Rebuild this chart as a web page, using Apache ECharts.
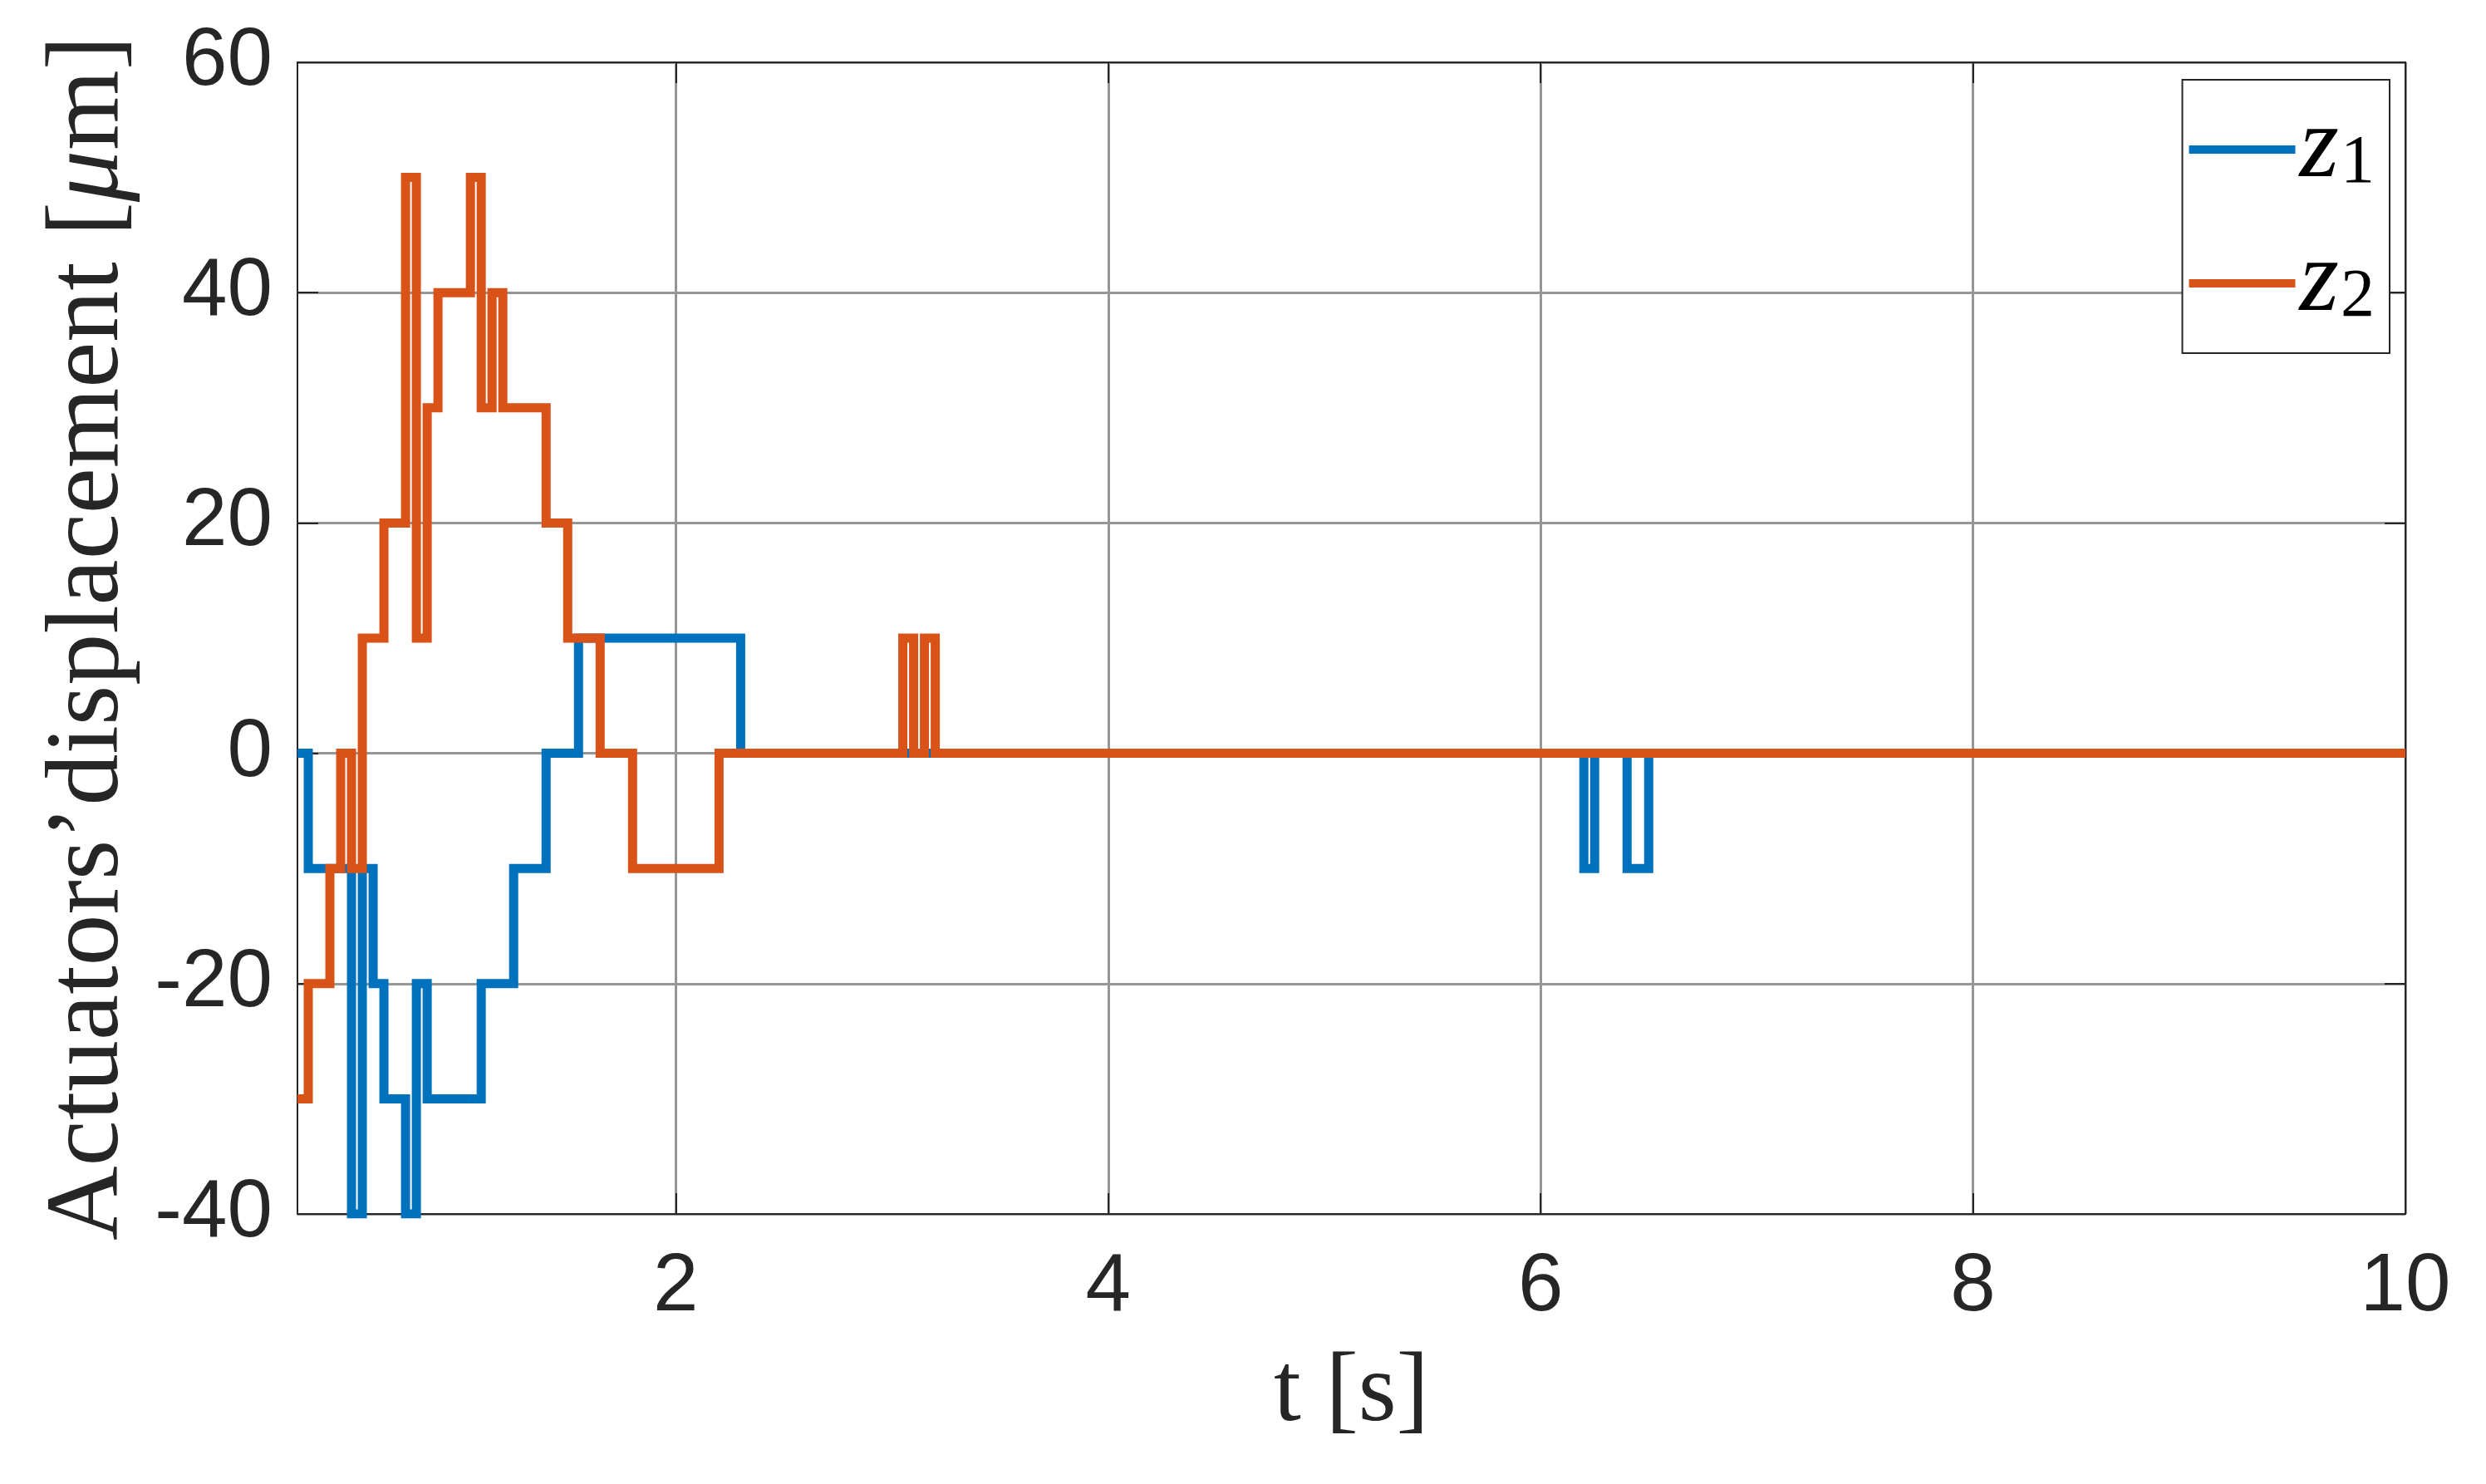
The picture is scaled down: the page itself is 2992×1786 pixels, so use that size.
<!DOCTYPE html>
<html>
<head>
<meta charset="utf-8">
<script src="https://cdn.jsdelivr.net/npm/echarts@6/dist/echarts.min.js"></script>
<style>
  html, body { margin: 0; padding: 0; background: #fff; }
  #chart { width: 2992px; height: 1786px; }
</style>
</head>
<body>
<div id="chart"></div>
<script>
// stairs data: value holds from t until the next t
const t1 = [0.25, 0.3, 0.5, 0.55, 0.6, 0.65, 0.75, 0.8, 0.85, 1.1, 1.25, 1.4, 1.55, 2.3, 6.2, 6.25, 6.4, 6.5, 10]
const z1 = [0, -10, -40, -10, -20, -30, -40, -20, -30, -20, -10, 0, 10, 0, -10, 0, -10, 0, 0]

const t2 = [0.25, 0.3, 0.4, 0.45, 0.5, 0.55, 0.65, 0.75, 0.8, 0.85, 0.9, 1.05, 1.1, 1.15, 1.2, 1.4, 1.5, 1.65, 1.8, 2.2, 3.05, 3.1, 3.15, 3.2, 10]
const z2 = [-30, -20, -10, 0, -10, 10, 20, 50, 10, 30, 40, 50, 30, 40, 30, 20, 10, 0, -10, 0, 10, 0, 10, 0, 0]

const xTicks = [2, 4, 6, 8, 10]
const yTicks = [-40, -20, 0, 20, 40, 60]

const pairs = (xs, ys) => xs.map((x, i) => [x, ys[i]])

const ink = '#262626'
const gridGray = '#969696'
const sans = 'Liberation Sans'
const serif = 'Liberation Serif'

const chart = echarts.init(document.getElementById('chart'))

chart.setOption({
  animation: false,
  backgroundColor: '#fff',
  grid: {
    left: 358,
    right: 97,
    top: 75,
    bottom: 325,
    show: true,
    borderColor: ink,
    borderWidth: 2
  },
  legend: {
    orient: 'vertical',
    right: 116,
    top: 96,
    padding: [23, 18, 23, 8],
    itemWidth: 128,
    itemHeight: 10,
    itemGap: 39,
    icon: 'rect',
    backgroundColor: '#fff',
    borderColor: ink,
    borderWidth: 2,
    formatter: name => '{z|z}{s|' + name.slice(1) + '}',
    textStyle: {
      lineHeight: 100,
      rich: {
        z: { fontFamily: serif, fontStyle: 'italic', fontSize: 122, color: '#000' },
        s: { fontFamily: serif, fontSize: 82, color: '#000', padding: [34, 0, 0, 2] }
      }
    },
    data: ['z1', 'z2']
  },
  xAxis: [
    {
      type: 'value',
      min: 0.25,
      max: 10,
      name: 't [s]',
      nameLocation: 'middle',
      nameGap: 158,
      nameTextStyle: { fontFamily: serif, fontSize: 118, color: ink },
      axisLine: { show: true, onZero: false, lineStyle: { color: ink, width: 2 } },
      axisTick: { inside: true, length: 25, customValues: xTicks, lineStyle: { color: ink, width: 2 } },
      axisLabel: { customValues: xTicks, margin: 40, fontFamily: sans, fontSize: 98, color: ink },
      splitLine: { show: true, lineStyle: { color: gridGray, width: 3 } }
    },
    {
      type: 'value',
      position: 'top',
      min: 0.25,
      max: 10,
      axisLine: { show: true, onZero: false, lineStyle: { color: ink, width: 2 } },
      axisTick: { inside: true, length: 25, customValues: xTicks, lineStyle: { color: ink, width: 2 } },
      axisLabel: { show: false },
      splitLine: { show: false }
    }
  ],
  yAxis: [
    {
      type: 'value',
      min: -40,
      max: 60,
      interval: 20,
      name: 'Actuators’displacement [{mu|μ}m]',
      nameLocation: 'middle',
      nameGap: 188,
      nameTextStyle: {
        fontFamily: serif,
        fontSize: 124,
        color: ink,
        rich: { mu: { fontFamily: serif, fontStyle: 'italic', fontSize: 124, color: ink } }
      },
      axisLine: { show: true, onZero: false, lineStyle: { color: ink, width: 2 } },
      axisTick: { inside: true, length: 25, lineStyle: { color: ink, width: 2 } },
      axisLabel: { margin: 30, fontFamily: sans, fontSize: 98, color: ink },
      splitLine: { show: true, lineStyle: { color: gridGray, width: 3 } }
    },
    {
      type: 'value',
      position: 'right',
      min: -40,
      max: 60,
      interval: 20,
      axisLine: { show: true, onZero: false, lineStyle: { color: ink, width: 2 } },
      axisTick: { inside: true, length: 25, lineStyle: { color: ink, width: 2 } },
      axisLabel: { show: false },
      splitLine: { show: false }
    }
  ],
  series: [
    {
      name: 'z1',
      type: 'line',
      step: 'end',
      showSymbol: false,
      color: '#0072BD',
      lineStyle: { width: 11, color: '#0072BD', join: 'miter' },
      data: pairs(t1, z1)
    },
    {
      name: 'z2',
      type: 'line',
      step: 'end',
      showSymbol: false,
      color: '#D95319',
      lineStyle: { width: 11, color: '#D95319', join: 'miter' },
      data: pairs(t2, z2)
    }
  ]
})
</script>
</body>
</html>
